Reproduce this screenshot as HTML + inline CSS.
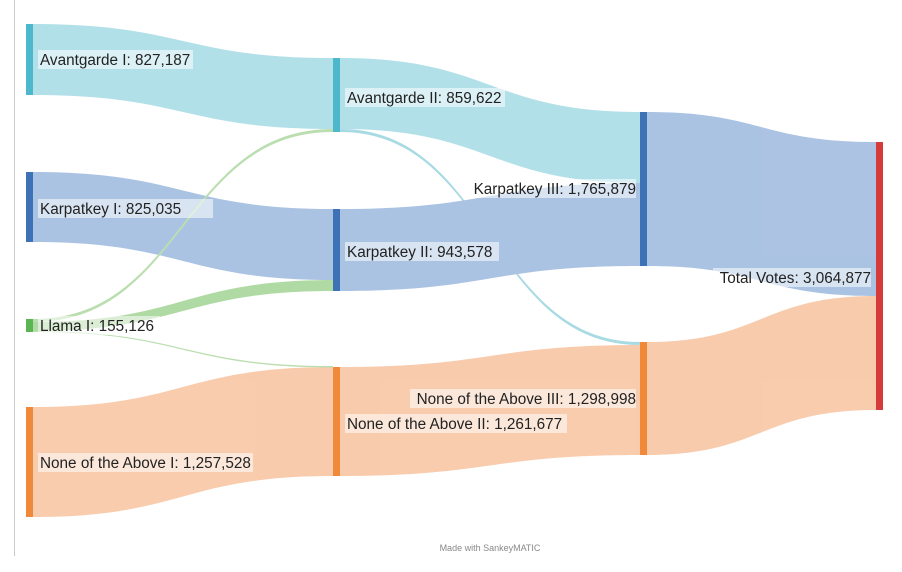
<!DOCTYPE html>
<html><head><meta charset="utf-8"><style>
html,body{margin:0;padding:0;background:#fff;}
svg{display:block;font-family:"Liberation Sans",sans-serif;}
.lb{font-size:15.3px;fill:#222;}
</style></head><body>
<svg width="902" height="572" viewBox="0 0 902 572">
<rect width="902" height="572" fill="#fff"/>
<line x1="14.5" y1="0" x2="14.5" y2="556" stroke="#ccc" stroke-width="1"/>
<g opacity="0.9">
<path d="M33 24 C183 24 183 58 333 58 L333 129 C183 129 183 95 33 95 Z" fill="#aadde7"/>
<path d="M33 172 C183 172 183 209 333 209 L333 280 C183 280 183 242 33 242 Z" fill="#a3bde0"/>
<path d="M33 407 C183 407 183 367 333 367 L333 476 C183 476 183 517 33 517 Z" fill="#f8c6a4"/>
<path d="M33 319 C183 319 183 129 333 129 L333 132 C183 132 183 322 33 322 Z" fill="#b4dba8"/>
<path d="M33 322 C183 322 183 280 333 280 L333 291 C183 291 183 331 33 331 Z" fill="#a8d69a"/>
<path d="M33 331 C183 331 183 366 333 366 L333 367.5 C183 367.5 183 332 33 332 Z" fill="#b4dba8"/>
<path d="M340 58 C490 58 490 112 640 112 L640 183 C490 183 490 129 340 129 Z" fill="#aadde7"/>
<path d="M340 129 C490 129 490 342 640 342 L640 345 C490 345 490 132 340 132 Z" fill="#9fd6e0"/>
<path d="M340 209 C490 209 490 183 640 183 L640 266 C490 266 490 291 340 291 Z" fill="#a3bde0"/>
<path d="M340 367 C490 367 490 345 640 345 L640 455 C490 455 490 476 340 476 Z" fill="#f8c6a4"/>
<path d="M647 112 C761 112 761 142 876 142 L876 296 C761 296 761 266 647 266 Z" fill="#a3bde0"/>
<path d="M647 342 C761 342 761 296 876 296 L876 410 C761 410 761 455 647 455 Z" fill="#f8c6a4"/>
</g>
<rect x="26" y="24" width="7" height="71" fill="#4db8cc"/>
<rect x="26" y="172" width="7" height="70" fill="#3d72b6"/>
<rect x="26" y="319" width="7" height="13" fill="#5bb552"/>
<rect x="26" y="407" width="7" height="110" fill="#f08a3a"/>
<rect x="333" y="58" width="7" height="74" fill="#4db8cc"/>
<rect x="333" y="209" width="7" height="82" fill="#3d72b6"/>
<rect x="333" y="367" width="7" height="109" fill="#f08a3a"/>
<rect x="640" y="112" width="7" height="154" fill="#3d72b6"/>
<rect x="640" y="342" width="7" height="113" fill="#f08a3a"/>
<rect x="876" y="142" width="7" height="268" fill="#d63a3a"/>
<g class="lb">
<rect x="38" y="50" width="155" height="19" fill="#fff" opacity="0.55"/>
<text x="40" y="65">Avantgarde I: 827,187</text>
<rect x="38" y="199" width="175" height="19" fill="#fff" opacity="0.55"/>
<text x="40" y="214">Karpatkey I: 825,035</text>
<rect x="38" y="316" width="122" height="19" fill="#fff" opacity="0.55"/>
<text x="40" y="331">Llama I: 155,126</text>
<rect x="38" y="453" width="215" height="19" fill="#fff" opacity="0.55"/>
<text x="40" y="468">None of the Above I: 1,257,528</text>
<rect x="345" y="88" width="160" height="19" fill="#fff" opacity="0.55"/>
<text x="347" y="103">Avantgarde II: 859,622</text>
<rect x="345" y="242" width="154" height="19" fill="#fff" opacity="0.55"/>
<text x="347" y="257">Karpatkey II: 943,578</text>
<rect x="345" y="414" width="222" height="19" fill="#fff" opacity="0.55"/>
<text x="347" y="429">None of the Above II: 1,261,677</text>
<rect x="468" y="179" width="168" height="19" fill="#fff" opacity="0.55"/>
<text x="636" y="194" text-anchor="end">Karpatkey III: 1,765,879</text>
<rect x="410" y="389" width="226" height="19" fill="#fff" opacity="0.55"/>
<text x="636" y="404" text-anchor="end">None of the Above III: 1,298,998</text>
<rect x="713" y="268" width="158" height="19" fill="#fff" opacity="0.55"/>
<text x="871" y="283" text-anchor="end">Total Votes: 3,064,877</text>
</g>
<text x="490" y="551" text-anchor="middle" font-size="9" fill="#888">Made with SankeyMATIC</text>
</svg>
</body></html>
